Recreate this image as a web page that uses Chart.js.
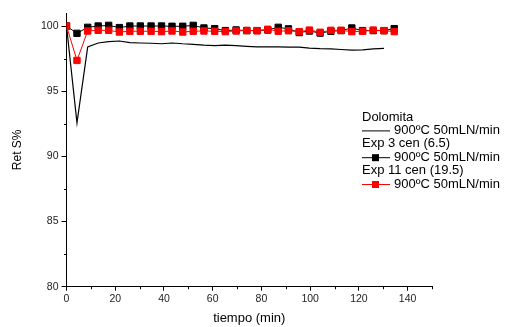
<!DOCTYPE html>
<html>
<head>
<meta charset="utf-8">
<script src="https://cdn.jsdelivr.net/npm/chart.js@4/dist/chart.umd.min.js"></script>
<style>
  html, body { margin: 0; padding: 0; background: #fff; }
  #wrap { width: 505px; height: 327px; }
</style>
</head>
<body>
<div id="wrap"><canvas id="retChart" width="505" height="327"></canvas></div>
<script>
// sampling times (min)
const tiempo = [0, 4.3, 8.7, 13.0, 17.3, 21.7, 26.0, 30.3, 34.7, 39.0, 43.3, 47.7, 52.0, 56.4, 60.8, 65.2,
  69.6, 74.0, 78.2, 82.6, 86.9, 91.1, 95.5, 99.7, 104.1, 108.5, 112.7, 117.1, 121.5, 125.9, 130.3, 134.5];

// Ret S% per series
const dolomita = [100, 92.57, 98.4, 98.7, 98.8, 98.85, 98.72, 98.7, 98.68, 98.64, 98.7, 98.64, 98.6, 98.54, 98.5, 98.54,
  98.49, 98.44, 98.4, 98.4, 98.4, 98.38, 98.38, 98.3, 98.26, 98.25, 98.2, 98.15, 98.17, 98.24, 98.28];
const exp3 = [100, 99.44, 99.9, 100.0, 100.05, 99.88, 100, 100, 100, 100, 99.98, 99.98, 100.05, 99.85, 99.8, 99.65,
  99.7, 99.65, 99.65, 99.7, 99.9, 99.78, 99.5, 99.62, 99.46, 99.6, 99.65, 99.85, 99.65, 99.65, 99.65, 99.8];
const exp11 = [100, 97.36, 99.62, 99.67, 99.67, 99.54, 99.6, 99.6, 99.6, 99.57, 99.62, 99.54, 99.6, 99.62, 99.6, 99.57,
  99.62, 99.66, 99.64, 99.75, 99.6, 99.64, 99.57, 99.69, 99.52, 99.67, 99.67, 99.57, 99.6, 99.69, 99.64, 99.57];

const xTicks = [0, 20, 40, 60, 80, 100, 120, 140];
const yTicks = [80, 85, 90, 95, 100];
const xMinor = [10, 30, 50, 70, 90, 110, 130, 150];
const yMinor = [82.5, 87.5, 92.5, 97.5];

const legendRows = [
  { title: 'Dolomita', label: '900ºC 50mLN/min', color: '#000000', marker: false },
  { title: 'Exp 3 cen (6.5)', label: '900ºC 50mLN/min', color: '#000000', marker: true },
  { title: 'Exp 11 cen (19.5)', label: '900ºC 50mLN/min', color: '#ff0000', marker: true }
];

const FONT = '"Liberation Sans", Arial, sans-serif';

const toPoints = (ys) => ys.map((y, i) => ({ x: tiempo[i], y }));

// small ticks between the labelled ones + the boxed legend text
const extrasPlugin = {
  id: 'extras',
  afterDraw(chart) {
    const ctx = chart.ctx;
    const xs = chart.scales.x, ys = chart.scales.y;
    ctx.save();
    ctx.strokeStyle = '#000';
    ctx.lineWidth = 1;
    ctx.beginPath();
    xMinor.forEach(v => {
      const px = Math.round(xs.getPixelForValue(v)) + 0.5;
      ctx.moveTo(px, ys.bottom);
      ctx.lineTo(px, ys.bottom + 2.5);
    });
    yMinor.forEach(v => {
      const py = Math.round(ys.getPixelForValue(v)) + 0.5;
      ctx.moveTo(xs.left, py);
      ctx.lineTo(xs.left - 2.5, py);
    });
    ctx.stroke();

    ctx.font = '13px ' + FONT;
    ctx.textBaseline = 'middle';
    ctx.fillStyle = '#000';
    let y = 117;
    legendRows.forEach(row => {
      ctx.fillText(row.title, 362, y);
      y += 13.4;
      ctx.strokeStyle = row.color;
      ctx.lineWidth = 1;
      ctx.beginPath();
      ctx.moveTo(362, y + 0.5);
      ctx.lineTo(390, y + 0.5);
      ctx.stroke();
      if (row.marker) {
        ctx.fillStyle = row.color;
        ctx.fillRect(372, y - 3, 7, 7);
      }
      ctx.fillStyle = '#000';
      ctx.fillText(row.label, 394, y);
      y += 13.4;
    });
    ctx.restore();
  }
};

new Chart(document.getElementById('retChart'), {
  type: 'line',
  data: {
    datasets: [
      {
        label: 'Dolomita 900ºC 50mLN/min',
        data: toPoints(dolomita),
        borderColor: '#000',
        borderWidth: 1.2,
        pointRadius: 0,
        tension: 0,
        order: 3
      },
      {
        label: 'Exp 3 cen (6.5) 900ºC 50mLN/min',
        data: toPoints(exp3),
        borderColor: '#000',
        backgroundColor: '#000',
        borderWidth: 1,
        pointStyle: 'rect',
        pointRadius: 4.5,
        pointBorderWidth: 1,
        pointBackgroundColor: '#000',
        pointBorderColor: '#000',
        tension: 0,
        order: 2
      },
      {
        label: 'Exp 11 cen (19.5) 900ºC 50mLN/min',
        data: toPoints(exp11),
        borderColor: '#ff0000',
        backgroundColor: '#ff0000',
        borderWidth: 1,
        pointStyle: 'rect',
        pointRadius: 4.5,
        pointBorderWidth: 1,
        pointBackgroundColor: '#ff0000',
        pointBorderColor: '#ff0000',
        tension: 0,
        order: 1
      }
    ]
  },
  options: {
    responsive: false,
    animation: false,
    layout: { padding: { left: 0, top: 13, right: 73, bottom: 0 } },
    plugins: {
      legend: { display: false },
      tooltip: { enabled: false }
    },
    scales: {
      x: {
        type: 'linear',
        min: 0,
        max: 150,
        afterFit: (s) => { s.height = 40.3; },
        afterBuildTicks: (s) => { s.ticks = xTicks.map(v => ({ value: v })); },
        border: { color: '#000', width: 1 },
        grid: { drawOnChartArea: false, drawTicks: true, tickLength: 4, color: '#000' },
        ticks: { color: '#222', font: { family: FONT, size: 10.5 }, padding: 2, maxRotation: 0 },
        title: {
          display: true,
          text: 'tiempo (min)',
          color: '#000',
          font: { family: FONT, size: 13 },
          padding: { top: 0, bottom: 1 }
        }
      },
      y: {
        type: 'linear',
        min: 80,
        max: 101,
        afterFit: (s) => { s.width = 66.5; },
        afterBuildTicks: (s) => { s.ticks = yTicks.map(v => ({ value: v })); },
        border: { color: '#000', width: 1 },
        grid: { drawOnChartArea: false, drawTicks: true, tickLength: 5, color: '#000' },
        ticks: { color: '#222', font: { family: FONT, size: 10.5 }, padding: 3 },
        title: {
          display: true,
          text: 'Ret S%',
          color: '#000',
          font: { family: FONT, size: 12 },
          padding: { top: 10, bottom: 0 }
        }
      }
    }
  },
  plugins: [extrasPlugin]
});
</script>
</body>
</html>
